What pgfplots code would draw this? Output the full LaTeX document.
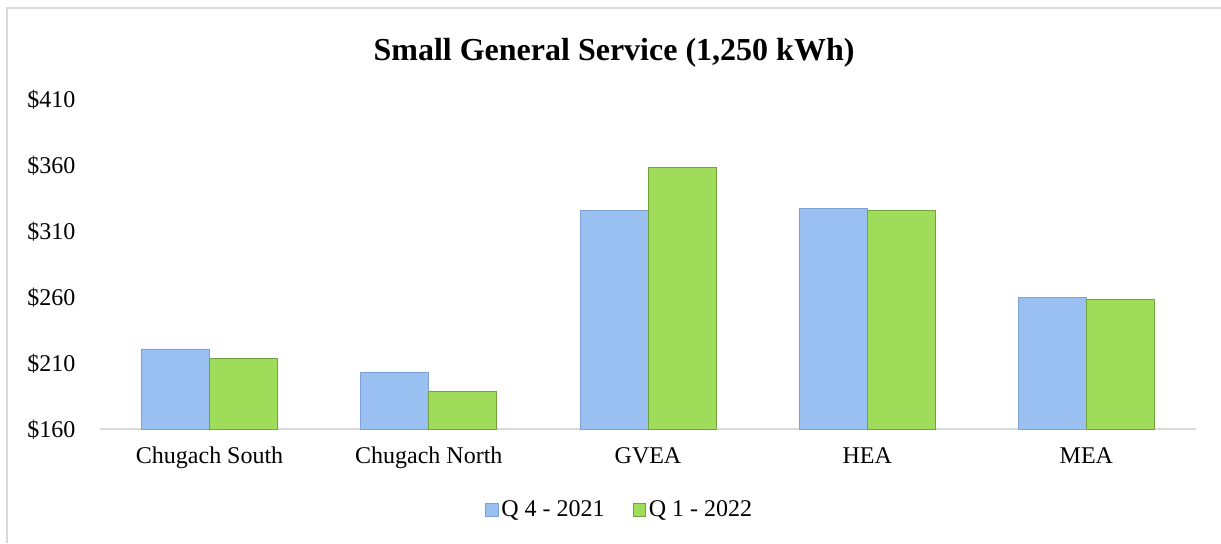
\documentclass[border=0pt]{standalone}
\usepackage{pgfplots}
\pgfplotsset{compat=1.18}
\usepackage{fontspec}
\setmainfont{Liberation Serif}
\definecolor{bluemain}{RGB}{153,192,240}
\definecolor{blueedge}{RGB}{128,162,210}
\definecolor{greenmain}{RGB}{158,220,90}
\definecolor{greenedge}{RGB}{112,162,62}
\definecolor{framegray}{RGB}{217,217,217}
\begin{document}
\begin{tikzpicture}
\path[use as bounding box] (0pt,0pt) rectangle (915.75pt,407.25pt);
\draw[framegray, line width=1.5pt] (5.6pt,0pt) -- (5.6pt,400.9pt) -- (915.75pt,400.9pt);
\node[anchor=base, font=\bfseries\fontsize{24}{28}\selectfont] at (460.5pt,362pt) {Small General Service (1,250 kWh)};
\begin{axis}[
  at={(75pt,85.3pt)}, anchor=south west,
  scale only axis, width=822pt, height=246.9pt,
  ybar=0pt, bar width=51pt,
  ymin=160, ymax=410,
  ytick={160,210,260,310,360,410},
  yticklabels={\$160,\$210,\$260,\$310,\$360,\$410},
  xmin=-0.5, xmax=4.5,
  xtick={0,1,2,3,4},
  xticklabels={Chugach South, Chugach North, GVEA, HEA, MEA},
  axis x line*=bottom, axis y line*=left,
  y axis line style={draw=none},
  x axis line style={-, framegray, line width=1.5pt},
  major tick length=0pt,
  tick label style={font=\fontsize{18}{21}\selectfont},
  yticklabel style={anchor=east, xshift=-15pt},
  xticklabel style={anchor=north, yshift=-10pt},
  legend style={at={(0.4745,-0.245)}, anchor=center, draw=none, legend columns=2,
    font=\fontsize{18}{21}\selectfont, /tikz/every even column/.append style={column sep=19pt}},
  legend image code/.code={\path[#1] (0pt,-4.75pt) rectangle (9.5pt,4.75pt);},
]
\addplot[fill=bluemain, draw=blueedge, line width=0.6pt]
  coordinates {(0,221) (1,203.5) (2,326.5) (3,328) (4,260)};
\addplot[fill=greenmain, draw=greenedge, line width=0.6pt]
  coordinates {(0,214) (1,189) (2,359) (3,326.5) (4,259)};
\legend{Q 4 - 2021, Q 1 - 2022}
\end{axis}
\end{tikzpicture}
\end{document}
